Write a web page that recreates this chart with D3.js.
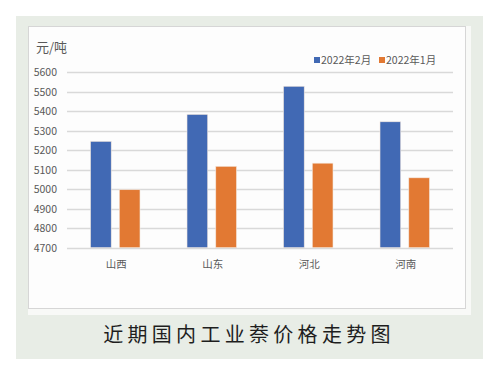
<!DOCTYPE html>
<html><head><meta charset="utf-8">
<script src="https://cdn.jsdelivr.net/npm/d3@7"></script>
<style>html,body{margin:0;padding:0;background:#fff;}svg{display:block;}</style>
</head><body>
<script>
const categories = ["山西", "山东", "河北", "河南"];
const seriesNames = ["2022年2月", "2022年1月"];
const feb = [5245, 5383, 5527, 5345];
const jan = [4997, 5117, 5133, 5058];
const yTicks = [4700, 4800, 4900, 5000, 5100, 5200, 5300, 5400, 5500, 5600];
const colors = ["#4169b4", "#e27933"];
const unitLabel = "元/吨";
const caption = "近期国内工业萘价格走势图";

const W = 490, H = 365;
const svg = d3.select("body").append("svg").attr("width", W).attr("height", H);
const font = "'Microsoft YaHei','Noto Sans CJK SC','DejaVu Sans',sans-serif";

// backgrounds
svg.append("rect").attr("x", 16).attr("y", 16).attr("width", 467).attr("height", 343).attr("fill", "#e8ede6");
svg.append("rect").attr("x", 28).attr("y", 26).attr("width", 443).attr("height", 289).attr("fill", "#f8f9f7");
svg.append("rect").attr("x", 28.5).attr("y", 26.5).attr("width", 437).attr("height", 282).attr("fill", "#fdfdfd").attr("stroke", "#d6d6d6");

const x0 = d3.scaleBand().domain(categories).range([67, 453]);
const x1 = d3.scaleBand().domain(seriesNames).range([23.5, 73]).paddingInner(0.28);
const y = d3.scaleLinear().domain([4700, 5600]).range([247.7, 72]);

// gridlines
svg.append("g").selectAll("line").data(yTicks).join("line")
  .attr("x1", 67).attr("x2", 453)
  .attr("y1", d => Math.round(y(d)) + 0.5).attr("y2", d => Math.round(y(d)) + 0.5)
  .attr("stroke", "#d9d9d9").attr("stroke-width", 1.3);

// y tick labels
svg.append("g").selectAll("text").data(yTicks).join("text")
  .attr("x", 57).attr("y", d => y(d) + 4)
  .attr("text-anchor", "end").attr("font-family", font).attr("font-size", 10.5)
  .attr("fill", "#595959").text(d => d);

// bars
const data = categories.map((c, i) => ({c, vals: [feb[i], jan[i]]}));
const g = svg.append("g").selectAll("g").data(data).join("g")
  .attr("transform", d => `translate(${x0(d.c)},0)`);
g.selectAll("rect").data(d => d.vals.map((v, j) => ({v, s: seriesNames[j], j}))).join("rect")
  .attr("x", d => x1(d.s)).attr("width", x1.bandwidth())
  .attr("y", d => y(d.v)).attr("height", d => y(4700) - y(d.v))
  .attr("fill", d => colors[d.j]).attr("stroke", "#f4e9e0").attr("stroke-width", 0.6);

// category labels
svg.append("g").selectAll("text").data(categories).join("text")
  .attr("x", d => x0(d) + x0.bandwidth() / 2 + 1).attr("y", 268)
  .attr("text-anchor", "middle").attr("font-family", font).attr("font-size", 10.5)
  .attr("fill", "#595959").text(d => d);

// unit label
svg.append("text").attr("x", 36).attr("y", 52).attr("font-family", font)
  .attr("font-size", 13).attr("fill", "#595959").text(unitLabel);

// legend
const legendX = [314, 379];
const lg = svg.append("g").selectAll("g").data(seriesNames).join("g")
  .attr("transform", (d, i) => `translate(${legendX[i]},0)`);
lg.append("rect").attr("x", 0).attr("y", 57).attr("width", 6).attr("height", 6)
  .attr("fill", (d, i) => colors[i]);
lg.append("text").attr("x", 7).attr("y", 64).attr("font-family", font)
  .attr("font-size", 10.5).attr("fill", "#595959").text(d => d);

// caption
svg.append("text").attr("x", 249).attr("y", 342).attr("text-anchor", "middle")
  .attr("font-family", font).attr("font-size", 20).attr("letter-spacing", 4.3)
  .attr("fill", "#1e1e1e").text(caption);
</script>
</body></html>
